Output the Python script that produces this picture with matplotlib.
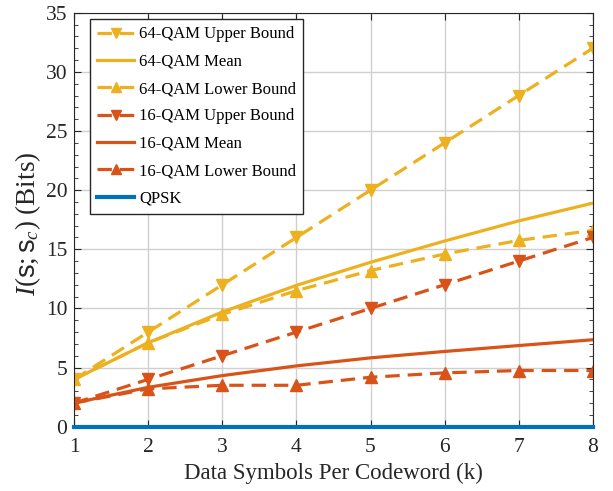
import numpy as np
import matplotlib
matplotlib.use("Agg")
import matplotlib.pyplot as plt
from matplotlib.ticker import MultipleLocator

plt.rcParams['font.family'] = ['Liberation Serif', 'DejaVu Serif']
plt.rcParams['mathtext.fontset'] = 'custom'
plt.rcParams['mathtext.rm'] = 'Liberation Serif'
plt.rcParams['mathtext.it'] = 'Liberation Serif:italic'
plt.rcParams['mathtext.sf'] = 'Liberation Sans'

k = np.arange(1, 9)
qam64_upper = [4, 8, 12, 16, 20, 24, 28, 32]
qam64_mean = [4.0, 7.1, 9.7, 11.95, 13.9, 15.7, 17.4, 18.9]
qam64_lower = [4.0, 7.1, 9.5, 11.5, 13.2, 14.6, 15.75, 16.6]
qam16_upper = [2, 4, 6, 8, 10, 12, 14, 16]
qam16_mean = [2.0, 3.33, 4.32, 5.14, 5.82, 6.36, 6.86, 7.35]
qam16_lower = [2.0, 3.2, 3.5, 3.5, 4.18, 4.55, 4.75, 4.75]
qpsk = [0, 0, 0, 0, 0, 0, 0, 0]

yellow = '#EDB120'
orange = '#D95319'
blue = '#0072BD'

fig = plt.figure(figsize=(6.13, 4.91), dpi=100)
ax = fig.add_axes([0.121, 0.131, 0.846, 0.843])

lw = 2.3
dash = (0, (4.5, 2.5))
ms = 8

ax.plot(k, qam64_upper, color=yellow, lw=lw, ls=dash, marker='v', ms=ms, label='64-QAM Upper Bound')
ax.plot(k, qam64_mean, color=yellow, lw=lw, label='64-QAM Mean')
ax.plot(k, qam64_lower, color=yellow, lw=lw, ls=dash, marker='^', ms=ms, label='64-QAM Lower Bound')
ax.plot(k, qam16_upper, color=orange, lw=lw, ls=dash, marker='v', ms=ms, label='16-QAM Upper Bound')
ax.plot(k, qam16_mean, color=orange, lw=lw, label='16-QAM Mean')
ax.plot(k, qam16_lower, color=orange, lw=lw, ls=dash, marker='^', ms=ms, label='16-QAM Lower Bound')
ax.plot(k, qpsk, color=blue, lw=3, label='QPSK', clip_on=False, zorder=5)

ax.set_xlim(1, 8)
ax.set_ylim(0, 35)
ax.xaxis.set_major_locator(MultipleLocator(1))
ax.yaxis.set_major_locator(MultipleLocator(5))
ax.yaxis.set_minor_locator(MultipleLocator(1))
ax.tick_params(which='both', direction='in', top=True, right=True, labelsize=15.5,
               color='#262626', labelcolor='#262626')
ax.tick_params(which='major', length=5)
ax.tick_params(which='minor', length=3)
ax.tick_params(axis='x', pad=8)
ax.tick_params(axis='y', pad=5)
ax.grid(True, which='major', color='#d0d0d0', lw=1)
ax.set_axisbelow(True)
for s in ax.spines.values():
    s.set_color('#262626')

ax.set_xlabel('Data Symbols Per Codeword (k)', fontsize=16.5, color='#262626', labelpad=4)
ax.set_ylabel(r'$I(\mathsf{s};\mathsf{s}_c)$ (Bits)', fontsize=19.5, color='#262626')
ax.yaxis.set_label_coords(-0.06, 0.49)

leg = ax.legend(loc='upper left', bbox_to_anchor=(0.03, 0.985), fontsize=12,
                handlelength=2.2, handletextpad=0.3, borderpad=0.45, labelspacing=0.68,
                borderaxespad=0, fancybox=False, framealpha=1, edgecolor='#262626')
leg.get_frame().set_linewidth(1)
for h in leg.get_lines():
    h.set_markersize(7)

fig.savefig('out.png', dpi=100)
